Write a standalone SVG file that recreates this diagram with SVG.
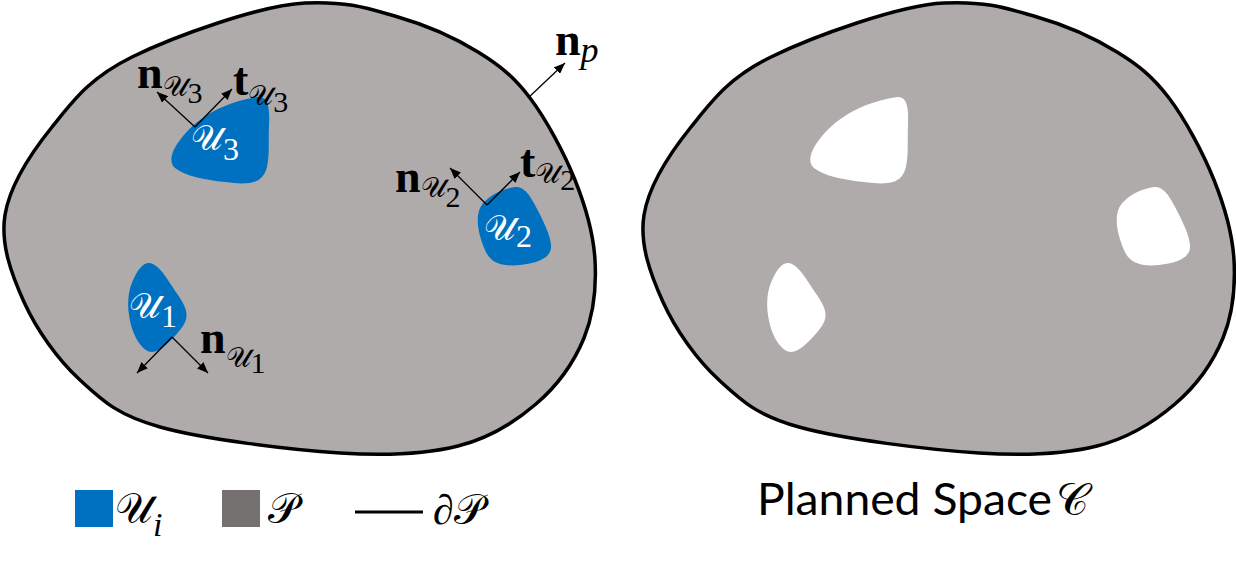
<svg xmlns="http://www.w3.org/2000/svg" width="1236" height="565" viewBox="0 0 1236 565">
<style>
.body{fill:#AFABAB;stroke:#000;stroke-width:3.5}
.u{fill:#0070C0}
.hole{fill:#fff}
.arr{stroke:#000;stroke-width:1.3;fill:none;marker-end:url(#ah)}
.m{font-family:'Liberation Serif','DejaVu Serif',serif;fill:#000}
.cal{font-family:'DejaVu Serif','DejaVu Sans','Noto Sans',serif}
.b{font-weight:bold}
.w{fill:#fff}
.cap{font-family:Lato,'Open Sans',sans-serif;font-size:45px;fill:#000}
</style>
<defs>
<marker id="ah" viewBox="0 0 11 9" refX="11" refY="4.5" markerWidth="11" markerHeight="9" markerUnits="userSpaceOnUse" orient="auto"><path d="M0,0 L11,4.5 L0,9 z" fill="#000"/></marker>
<path id="outline" d="M305,3 C349,1 369.2,8.8 398,17 C426.8,25.2 456,38.5 478,52 C500,65.5 513.8,76.7 530,98 C546.2,119.3 564.2,153 575,180 C585.8,207 593.5,233.7 595,260 C596.5,286.3 593.8,314 584,338 C574.2,362 557,386 536,404 C515,422 490.7,437.8 458,446 C425.3,454.2 389.7,456.2 340,453 C290.3,449.8 203.3,439.2 160,427 C116.7,414.8 102.7,400.8 80,380 C57.3,359.2 36.5,329.5 24,302 C11.5,274.5 0.3,244.2 5,215 C9.7,185.8 30.8,153.3 52,127 C73.2,100.7 89.8,77.7 132,57 C174.2,36.3 261,5 305,3 Z"/>
<path id="s3" d="M258,97 C268,96 270,108 269,125 C268,145 271,168 262,177 C255,185 240,184 225,182 C205,180 185,176 175,168 C168,162 172,150 180,140 C195,120 220,103 258,97 Z"/>
<path id="s2" d="M510,188 C522,184 528,192 535,205 C543,220 552,238 551,248 C550,258 538,263 520,265 C500,267 490,262 485,250 C479,236 475,220 480,208 C486,197 498,191 510,188 Z"/>
<path id="s1" d="M148,263 C158,262 168,280 178,295 C188,310 190,318 180,330 C170,342 160,352 152,352 C144,352 135,340 131,325 C126,305 128,290 134,278 C139,268 143,264 148,263 Z"/>
</defs>

<g id="region-P">
<use href="#outline" class="body"/>
</g>
<g id="U3"><use href="#s3" class="u"/>
<text class="m w" x="191" y="150" font-size="35"><tspan class="cal">𝒰</tspan><tspan font-size="32" dy="10">3</tspan></text></g>
<g id="U2"><use href="#s2" class="u"/>
<text class="m w" x="484" y="240" font-size="35"><tspan class="cal">𝒰</tspan><tspan font-size="32" dy="7">2</tspan></text></g>
<g id="U1"><use href="#s1" class="u"/>
<text class="m w" x="129" y="318" font-size="35"><tspan class="cal">𝒰</tspan><tspan font-size="32" dy="9">1</tspan></text></g>

<g id="connectors">
<line class="arr" x1="195" y1="127" x2="157" y2="92"/>
<line class="arr" x1="195" y1="127" x2="232" y2="89"/>
<line class="arr" x1="487" y1="205" x2="450" y2="168"/>
<line class="arr" x1="487" y1="205" x2="520" y2="172"/>
<line class="arr" x1="172" y1="337" x2="137" y2="373"/>
<line class="arr" x1="172" y1="337" x2="208" y2="373"/>
<line class="arr" x1="528" y1="98" x2="565" y2="63"/>
</g>

<g id="labels">
<text class="m" x="137" y="88" font-size="46"><tspan class="b">n</tspan><tspan class="cal" font-size="28" dy="8">𝒰</tspan><tspan font-size="30" dy="7">3</tspan></text>
<text class="m" x="233" y="95" font-size="46"><tspan class="b">t</tspan><tspan class="cal" font-size="28" dy="10">𝒰</tspan><tspan font-size="30" dy="7">3</tspan></text>
<text class="m" x="395" y="192" font-size="46"><tspan class="b">n</tspan><tspan class="cal" font-size="28" dy="5">𝒰</tspan><tspan font-size="30" dy="10">2</tspan></text>
<text class="m" x="520" y="177" font-size="46"><tspan class="b">t</tspan><tspan class="cal" font-size="28" dy="6">𝒰</tspan><tspan font-size="30" dy="7">2</tspan></text>
<text class="m" x="200" y="353" font-size="46"><tspan class="b">n</tspan><tspan class="cal" font-size="28" dy="14">𝒰</tspan><tspan font-size="30" dy="6">1</tspan></text>
<text class="m" x="555" y="55" font-size="46"><tspan class="b">n</tspan><tspan font-style="italic" font-size="36" dy="7">p</tspan></text>
</g>

<g id="planned-space">
<use href="#outline" class="body" transform="translate(639,0)"/>
<use href="#s3" class="hole" transform="translate(639,0)"/>
<use href="#s2" class="hole" transform="translate(639,0)"/>
<use href="#s1" class="hole" transform="translate(639,0)"/>
</g>

<g id="legend">
<rect x="75" y="490" width="38" height="37" fill="#0070C0"/>
<text class="m" x="115" y="523" font-size="42"><tspan class="cal">𝒰</tspan><tspan font-style="italic" font-size="34" dy="13">i</tspan></text>
<rect x="222" y="490" width="38" height="37" fill="#767171"/>
<text class="m cal" x="268" y="523" font-size="42">𝒫</text>
<line x1="355" y1="512" x2="423" y2="512" stroke="#000" stroke-width="3"/>
<text class="m" x="433" y="524" font-size="42"><tspan font-style="italic">∂</tspan><tspan class="cal">𝒫</tspan></text>
<text class="cap" x="757" y="515"><tspan textLength="295" lengthAdjust="spacingAndGlyphs">Planned Space</tspan><tspan class="cal" font-family="'DejaVu Serif',serif" x="1056">𝒞</tspan></text>
</g>
</svg>
